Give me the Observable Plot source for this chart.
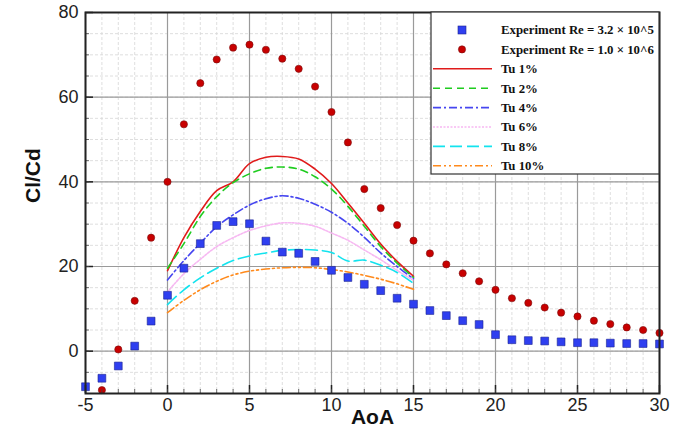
<!DOCTYPE html>
<html>
<head>
<meta charset="utf-8">
<script src="https://cdn.jsdelivr.net/npm/d3@7"></script>
<script src="https://cdn.jsdelivr.net/npm/@observablehq/plot@0.6"></script>
<style>
  html, body { margin: 0; padding: 0; background: #fff; }
  #chart { width: 677px; height: 434px; }
</style>
</head>
<body>
<div id="chart"></div>
<script>
// ---- data ----
const aoaExp = [-5,-4,-3,-2,-1,0,1,2,3,4,5,6,7,8,9,10,11,12,13,14,15,16,17,18,19,20,21,22,23,24,25,26,27,28,29,30];
const expRe32e5 = [-8.4,-6.4,-3.5,1.2,7.1,13.2,19.6,25.4,29.7,30.6,30.1,26.0,23.4,23.1,21.2,19.1,17.4,15.8,14.3,12.5,11.1,9.6,8.4,7.2,6.3,3.9,2.7,2.5,2.4,2.2,2.0,2.0,1.9,1.8,1.8,1.7];
const aoaExp2 = [-4,-3,-2,-1,0,1,2,3,4,5,6,7,8,9,10,11,12,13,14,15,16,17,18,19,20,21,22,23,24,25,26,27,28,29,30];
const expRe1e6 = [-9.2,0.4,11.9,26.8,40.0,53.6,63.3,68.9,71.7,72.4,71.2,69.1,66.7,62.5,56.5,49.3,38.3,33.8,29.8,26.1,23.1,20.5,18.4,16.5,14.5,12.5,11.4,10.3,9.1,8.2,7.2,6.4,5.6,5.0,4.3];

const aoaSim = [0,1,2,3,4,5,6,7,8,9,10,11,12,13,14,15];
const tu1  = [19.0,26.8,33.0,37.9,40.0,44.3,45.8,46.0,45.4,43.0,39.6,35.0,30.2,25.3,21.2,17.7];
const tu2  = [19.6,25.4,31.8,36.5,39.8,41.9,43.2,43.5,43.0,41.2,38.3,34.2,29.5,24.7,20.8,17.4];
const tu4  = [16.8,21.4,25.5,29.4,32.2,34.5,36.0,36.7,36.1,34.7,32.8,30.2,26.9,23.2,20.0,17.1];
const tu6  = [14.0,18.3,21.7,24.7,26.8,28.5,29.6,30.3,30.2,29.5,27.9,26.2,23.9,21.6,19.1,16.7];
const tu8  = [11.0,14.5,17.3,19.6,21.4,22.5,23.2,23.8,24.0,23.9,23.3,21.3,21.5,20.3,18.6,16.0];
const tu10 = [9.1,12.0,14.5,16.5,18.0,18.9,19.4,19.7,19.8,19.7,19.3,18.7,17.9,17.0,15.9,14.6];

const xMajor = [-5,0,5,10,15,20,25,30];
const xMinor = d3.range(-5, 31, 1);
const yMajor = [0,20,40,60,80];
const yMinor = d3.range(-10, 81, 5);

const seriesNames = ["Experiment Re = 3.2 \u00d7 10^5","Experiment Re = 1.0 \u00d7 10^6","Tu 1%","Tu 2%","Tu 4%","Tu 6%","Tu 8%","Tu 10%"];

// ---- build tables ----
const exp1 = aoaExp.map((a,i)=>({aoa:a, v:expRe32e5[i]}));
const exp2 = aoaExp2.map((a,i)=>({aoa:a, v:expRe1e6[i]}));
const simSeries = [
  {vals: tu1,  color:"#e01b1b", dash:null,              w:1.6},
  {vals: tu2,  color:"#1fcc1f", dash:"7,5",             w:1.6},
  {vals: tu4,  color:"#4646f0", dash:"8,3,2,3",         w:1.6},
  {vals: tu6,  color:"#f7b8f2", dash:"2,1.5",           w:1.6},
  {vals: tu8,  color:"#13e3ee", dash:"12,5",            w:1.6},
  {vals: tu10, color:"#ff8a1c", dash:"8,3,2,3,2,3",     w:1.6}
];

const W = 677, H = 434, mL = 85, mR = 18, mT = 12, mB = 41;
const innerW = W - mL - mR, innerH = H - mT - mB;

const marks = [
  Plot.ruleX(xMinor, {stroke:"#d6d6d6", strokeWidth:0.8, strokeDasharray:"3,2"}),
  Plot.ruleY(yMinor, {stroke:"#d6d6d6", strokeWidth:0.8, strokeDasharray:"3,2"}),
  Plot.ruleX(xMajor, {stroke:"#9a9a9a", strokeWidth:1.2}),
  Plot.ruleY(yMajor, {stroke:"#9a9a9a", strokeWidth:1.2}),
];
simSeries.forEach(s => {
  const rows = aoaSim.map((a,i)=>({aoa:a, v:s.vals[i]}));
  marks.push(Plot.line(rows, {x:"aoa", y:"v", stroke:s.color, strokeWidth:s.w, strokeDasharray:s.dash, curve:"catmull-rom"}));
});
marks.push(
  Plot.dot(exp2, {x:"aoa", y:"v", r:3.6, fill:"#c80000", stroke:"#7a1010", strokeWidth:0.6}),
  Plot.dot(exp1, {x:"aoa", y:"v", r:4.4, symbol:"square", fill:"#2f3ff0", stroke:"#1b2390", strokeWidth:0.6}),
  // inward tick marks
  Plot.tickX(xMajor, {x:d=>d, insetTop: innerH - 8, stroke:"#222", strokeWidth:1.5}),
  Plot.tickX(xMinor, {x:d=>d, insetTop: innerH - 4, stroke:"#444", strokeWidth:0.8}),
  Plot.tickY(yMajor, {y:d=>d, insetRight: innerW - 8, stroke:"#222", strokeWidth:1.5}),
  Plot.tickY(yMinor, {y:d=>d, insetRight: innerW - 4, stroke:"#444", strokeWidth:0.8}),
  Plot.frame({stroke:"#222", strokeWidth:2}),
  Plot.axisX({ticks:xMajor, tickSize:0, tickPadding:5, label:null, fontSize:18, fill:"#222", tickFormat:d=>String(d)}),
  Plot.axisY({ticks:yMajor, tickSize:0, tickPadding:7, label:null, fontSize:18, fill:"#222", tickFormat:d=>String(d)}),
  Plot.text(["AoA"], {frameAnchor:"bottom", text:d=>d, dy:30, fontWeight:"bold", fontSize:21, fill:"#111"}),
  Plot.text(["Cl/Cd"], {frameAnchor:"left", text:d=>d, dx:-52, rotate:-90, fontWeight:"bold", fontSize:21, fill:"#111"})
);

const chart = Plot.plot({
  width: W, height: H,
  marginLeft: mL, marginRight: mR, marginTop: mT, marginBottom: mB,
  x: {domain:[-5,30]},
  y: {domain:[-10,80]},
  style: {fontFamily:"'Liberation Sans', Arial, sans-serif", fontSize:"18px", background:"#fff", overflow:"visible"},
  marks
});
document.getElementById("chart").appendChild(chart);

// ---- legend inside the plot (top-right) ----
const svg = d3.select(chart);
const lg = svg.append("g").attr("class","legend").attr("text-anchor","start");
const lx = 431, ly = mT, lw = W - mR - lx, lh = 162;
lg.append("rect").attr("x",lx).attr("y",ly).attr("width",lw).attr("height",lh)
  .attr("fill","#fff").attr("stroke","#333").attr("stroke-width",1.2);
const rowY = i => 30 + i*19.4;
const symX = 462, lineX1 = 433, lineX2 = 492, textX = 501;
lg.append("rect").attr("x",symX-4).attr("y",rowY(0)-4).attr("width",8).attr("height",8)
  .attr("fill","#2f3ff0").attr("stroke","#1b2390").attr("stroke-width",0.6);
lg.append("circle").attr("cx",symX).attr("cy",rowY(1)).attr("r",3.6)
  .attr("fill","#c80000").attr("stroke","#7a1010").attr("stroke-width",0.6);
simSeries.forEach((s,i)=>{
  lg.append("line").attr("x1",lineX1).attr("x2",lineX2).attr("y1",rowY(i+2)).attr("y2",rowY(i+2))
    .attr("stroke",s.color).attr("stroke-width",s.w).attr("stroke-dasharray",s.dash);
});
seriesNames.forEach((t,i)=>{
  lg.append("text").attr("x",textX).attr("y",rowY(i)).attr("dy","0.35em")
    .attr("text-anchor","start")
    .attr("font-family","'Liberation Serif', 'Times New Roman', serif")
    .attr("font-weight","bold").attr("font-size",12.8).attr("fill","#111").text(t);
});
</script>
</body>
</html>
